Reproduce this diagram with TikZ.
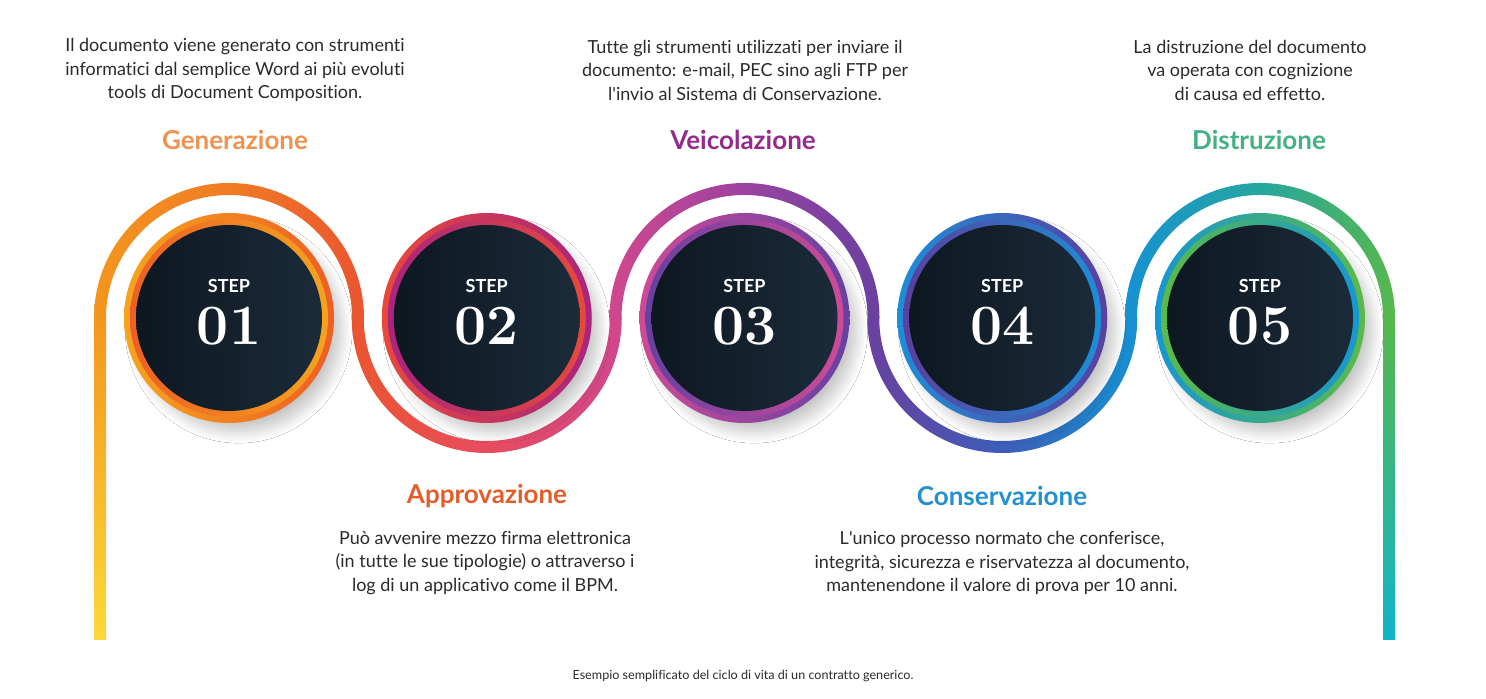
\documentclass[tikz,border=0pt]{standalone}
\usepackage{fontspec}
\setmainfont{Lato}[Ligatures=NoCommon]
\usetikzlibrary{shadows.blur}

% wave colours, left to right
\definecolor{legyellow}{HTML}{FCD83A}
\definecolor{wa0}{HTML}{F3961F}
\definecolor{wm1}{HTML}{F07B24}
\definecolor{wa1}{HTML}{EA5530}
\definecolor{wm2}{HTML}{E74C5E}
\definecolor{wa2}{HTML}{D1478E}
\definecolor{wm3}{HTML}{9B43A0}
\definecolor{wa3}{HTML}{6A40A0}
\definecolor{wm4}{HTML}{3D5DB8}
\definecolor{wa4}{HTML}{1592D2}
\definecolor{wm5}{HTML}{27A6A0}
\definecolor{wa5}{HTML}{57B84C}
\definecolor{legcyan}{HTML}{12B4C8}
% ring colours
\definecolor{o1a}{HTML}{F5A41E}
\definecolor{o1b}{HTML}{EE5E24}
\definecolor{o2a}{HTML}{E8493A}
\definecolor{o2b}{HTML}{A8247F}
\definecolor{o3a}{HTML}{CF4A97}
\definecolor{o3b}{HTML}{6541A2}
\definecolor{o4a}{HTML}{1D8ED8}
\definecolor{o4b}{HTML}{5B3F9E}
\definecolor{o5a}{HTML}{1597D3}
\definecolor{o5b}{HTML}{5CBA47}
\definecolor{corel}{HTML}{0D1720}
\definecolor{corer}{HTML}{1B2B3A}
\definecolor{bodytext}{HTML}{2B2B2B}
\definecolor{tgen}{HTML}{F0924F}
\definecolor{tapp}{HTML}{E35D2B}
\definecolor{tvei}{HTML}{942B8C}
\definecolor{tcon}{HTML}{2590CF}
\definecolor{tdis}{HTML}{45B083}

\tikzset{
	ring/.style={circle, inner sep=0pt, minimum size=105pt,
		blur shadow={shadow xshift=5pt, shadow yshift=-6pt, shadow scale=0.97, shadow blur radius=6pt, shadow blur steps=24, shadow opacity=24}},
	inring/.style={circle, inner sep=0pt, minimum size=99pt},
	core/.style={circle, inner sep=0pt, minimum size=93pt, left color=corel, right color=corer},
	steptxt/.style={anchor=base, text=white, font=\bfseries\fontsize{9}{9}\selectfont},
	stepnum/.style={anchor=base, text=white, font={\fontspec{Latin Modern Roman}\bfseries\fontsize{28.5}{29}\selectfont}},
	body/.style={align=center, text=bodytext, font=\fontsize{9}{11.75}\selectfont},
	title/.style={font=\bfseries\fontsize{13}{13}\selectfont}
}

\begin{document}
\begin{tikzpicture}[x=0.5pt, y=0.5pt]
	\fill[white] (0,0) rectangle (1486,699);
	\useasboundingbox (0,0) rectangle (1486,699);

	% the wave
	\shade[bottom color=legyellow, top color=wa0] (94,59) rectangle (106,381.5);
	\foreach \k/\sa/\ea/\ca/\cm/\cb in {1/180/0/wa0/wm1/wa1, 2/180/360/wa1/wm2/wa2, 3/180/0/wa2/wm3/wa3, 4/180/360/wa3/wm4/wa4, 5/180/0/wa4/wm5/wa5}{
		\pgfmathsetmacro\cx{229+257.75*(\k-1)}
		\shade[left color=\ca, right color=\cb, middle color=\cm]
			(\cx,381) ++(\sa:135) arc[start angle=\sa, end angle=\ea, radius=135]
			-- ++(\ea+180:12) arc[start angle=\ea, end angle=\sa, radius=123] -- cycle;
	}
	\shade[top color=wa5, bottom color=legcyan] (1383,59) rectangle (1395,381.5);

	% the steps
	\foreach \k/\nr/\ca/\cb in {1/01/o1a/o1b, 2/02/o2a/o2b, 3/03/o3a/o3b, 4/04/o4a/o4b, 5/05/o5a/o5b}{
		\pgfmathsetmacro\cx{229+257.75*(\k-1)}
		\node[ring, left color=\ca, right color=\cb] (ring\k) at (\cx,381) {};
		\node[inring, left color=\cb, right color=\ca] (inring\k) at (ring\k) {};
		\node[core] (core\k) at (ring\k) {};
		\node[steptxt] (step\k) at ([yshift=12.5pt]core\k.center) {STEP};
		\node[stepnum] (num\k) at ([yshift=-13.5pt]core\k.center) {\nr};
	}

	% titles and texts
	\node[title, text=tgen] (gen) at (235,559) {Generazione};
	\node[title, text=tvei] (vei) at (743,559) {Veicolazione};
	\node[title, text=tdis] (dis) at (1259,559) {Distruzione};
	\node[title, text=tapp] (app) at (487,203) {Approvazione};
	\node[title, text=tcon] (con) at (1002,203) {Conservazione};

	\node[body] (gentxt) at (235,629) {Il documento viene generato con strumenti\\informatici dal semplice Word ai più evoluti\\tools di Document Composition.};
	\node[body] (veitxt) at (745,629) {Tutte gli strumenti utilizzati per inviare il\\documento: e-mail, PEC sino agli FTP per\\l\textquotesingle invio al Sistema di Conservazione.};
	\node[body] (distxt) at (1250,629) {La distruzione del documento\\va operata con cognizione\\di causa ed effetto.};
	\node[body] (apptxt) at (485,136) {Può avvenire mezzo firma elettronica\\(in tutte le sue tipologie) o attraverso i\\log di un applicativo come il BPM.};
	\node[body] (contxt) at (1002,136) {L\textquotesingle unico processo normato che conferisce,\\integrità, sicurezza e riservatezza al documento,\\mantenendone il valore di prova per 10 anni.};

	\node[text=bodytext, font=\fontsize{6.3}{7}\selectfont] (foot) at (743,23) {Esempio semplificato del ciclo di vita di un contratto generico.};
\end{tikzpicture}
\end{document}
